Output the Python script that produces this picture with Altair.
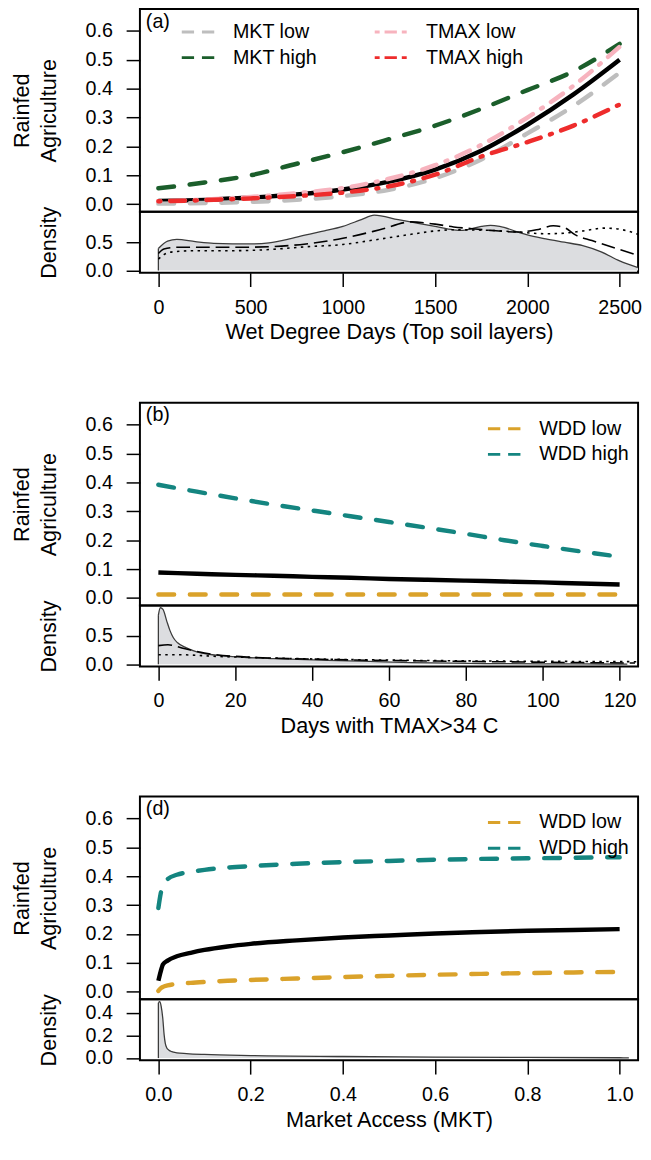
import altair as alt
import pandas as pd

FONT = "Liberation Sans"
W, H_MAIN, H_DENS, GAP = 506, 206, 62, 132

MAIN_Y_DOMAIN = [-0.026, 0.676]
MAIN_Y_TICKS = [0.0, 0.1, 0.2, 0.3, 0.4, 0.5, 0.6]

# ---------------- panel (a): Wet Degree Days ----------------
A_X_DOMAIN = [-100, 2600]
A_X_TICKS = [0, 500, 1000, 1500, 2000, 2500]
A_X = [0, 250, 500, 750, 1000, 1250, 1500, 1750, 2000, 2250, 2500]
A_MEAN = [0.011, 0.015, 0.023, 0.034, 0.051, 0.078, 0.12, 0.185, 0.275, 0.38, 0.50]
A_MKT_LOW = [0.002, 0.004, 0.008, 0.015, 0.028, 0.05, 0.09, 0.155, 0.245, 0.34, 0.455]
A_MKT_HIGH = [0.055, 0.075, 0.10, 0.14, 0.18, 0.225, 0.272, 0.33, 0.395, 0.46, 0.555]
A_TMAX_LOW = [0.01, 0.016, 0.025, 0.038, 0.056, 0.088, 0.135, 0.205, 0.30, 0.41, 0.545]
A_TMAX_HIGH = [0.01, 0.014, 0.02, 0.028, 0.04, 0.062, 0.102, 0.165, 0.215, 0.272, 0.345]

A_DENS_X = [0, 50, 100, 200, 300, 500, 600, 700, 800, 900, 1000, 1100, 1170, 1300, 1400,
            1500, 1600, 1650, 1750, 1800, 1850, 1950, 2000, 2100, 2200, 2300, 2400, 2500, 2600]
A_DENS_Y = [0.39, 0.52, 0.55, 0.51, 0.48, 0.47, 0.49, 0.55, 0.63, 0.70, 0.78, 0.90, 0.98, 0.90, 0.84,
            0.78, 0.72, 0.71, 0.78, 0.80, 0.78, 0.68, 0.63, 0.56, 0.50, 0.44, 0.33, 0.17, 0.05]
A_DASH_X = [0, 30, 100, 200, 400, 600, 800, 1000, 1200, 1370, 1500, 1600, 1700, 1800, 1950,
            2050, 2140, 2200, 2260, 2350, 2480, 2600]
A_DASH_Y = [0.30, 0.38, 0.41, 0.41, 0.41, 0.42, 0.47, 0.57, 0.72, 0.86, 0.82, 0.77, 0.74, 0.71, 0.68,
            0.72, 0.79, 0.76, 0.63, 0.53, 0.39, 0.27]
A_DOT_X = [0, 30, 80, 200, 400, 600, 800, 1000, 1150, 1370, 1500, 1600, 1800, 1950, 2100,
           2200, 2300, 2420, 2500, 2600]
A_DOT_Y = [0.20, 0.28, 0.33, 0.35, 0.35, 0.37, 0.42, 0.46, 0.53, 0.64, 0.70, 0.72, 0.71, 0.68, 0.65,
           0.66, 0.70, 0.75, 0.73, 0.64]

# ---------------- panel (b): Days with TMAX > 34 C ----------------
B_X_DOMAIN = [-4.8, 124.8]
B_X_TICKS = [0, 20, 40, 60, 80, 100, 120]
B_X = [0, 10, 20, 30, 40, 50, 60, 70, 80, 90, 100, 110, 120]
B_MEAN = [0.088, 0.084, 0.080, 0.077, 0.073, 0.070, 0.066, 0.063, 0.060, 0.057, 0.054, 0.050, 0.047]
B_WDD_LOW = [0.012, 0.012, 0.012, 0.012, 0.012, 0.012, 0.012, 0.012, 0.012, 0.012, 0.012, 0.012, 0.012]
B_WDD_HIGH = [0.392, 0.368, 0.345, 0.323, 0.303, 0.283, 0.263, 0.243, 0.222, 0.200, 0.180, 0.161, 0.143]

B_DENS_X = [0, 0.5, 1.2, 2.2, 3, 3.9, 5, 7.3, 10, 15, 23, 30, 44, 55, 66, 77, 87, 100, 110, 122]
B_DENS_Y = [0.87, 1.0, 0.97, 0.76, 0.6, 0.47, 0.38, 0.29, 0.22, 0.16, 0.12, 0.10, 0.07, 0.05, 0.03,
            0.02, 0.012, 0.008, 0.006, 0.004]
B_DASH_X = [0, 2.5, 6.7, 12, 23, 44, 66, 87, 110, 124]
B_DASH_Y = [0.33, 0.345, 0.28, 0.20, 0.13, 0.086, 0.062, 0.046, 0.03, 0.022]
B_DOT_X = [0, 5, 15, 30, 44, 66, 87, 110, 124.8]
B_DOT_Y = [0.17, 0.17, 0.14, 0.11, 0.09, 0.07, 0.057, 0.05, 0.046]

# ---------------- panel (d): Market Access ----------------
D_X_DOMAIN = [-0.04, 1.04]
D_X_TICKS = [0.0, 0.2, 0.4, 0.6, 0.8, 1.0]
D_X = [0, 0.005, 0.01, 0.02, 0.04, 0.07, 0.1, 0.15, 0.2, 0.3, 0.4, 0.5, 0.6, 0.7, 0.8, 0.9, 1.0]
D_MEAN = [0.038, 0.07, 0.095, 0.108, 0.123, 0.135, 0.145, 0.157, 0.166, 0.178, 0.188, 0.195,
          0.202, 0.207, 0.211, 0.214, 0.217]
D_WDD_HIGH = [0.29, 0.34, 0.37, 0.39, 0.405, 0.415, 0.422, 0.43, 0.435, 0.443, 0.449, 0.453,
              0.457, 0.46, 0.462, 0.464, 0.466]
D_WDD_LOW = [0.003, 0.012, 0.017, 0.022, 0.027, 0.031, 0.034, 0.038, 0.041, 0.046, 0.051, 0.055,
             0.059, 0.062, 0.065, 0.067, 0.069]
D_DENS_X = [0, 0.003, 0.006, 0.0096, 0.0124, 0.015, 0.018, 0.023, 0.029, 0.04, 0.061, 0.1, 0.2,
            0.4, 0.6, 0.8, 1.0, 1.02]
D_DENS_Y = [0.49, 0.5, 0.46, 0.35, 0.21, 0.13, 0.092, 0.07, 0.057, 0.047, 0.04, 0.032, 0.022,
            0.014, 0.009, 0.006, 0.003, 0.002]

DENS_Y_DOMAIN_1 = [-0.04, 1.04]
DENS_Y_TICKS_1 = [0.0, 0.5]
DENS_Y_DOMAIN_2 = [-0.02, 0.52]
DENS_Y_TICKS_2 = [0.0, 0.2, 0.4]

MKT_NAMES = ["MKT low", "MKT high"]
MKT_COLORS = ["#BEBEBE", "#1B5E2B"]
TMAX_NAMES = ["TMAX low", "TMAX high"]
TMAX_COLORS = ["#F7B3BE", "#EE2C2C"]
WDD_NAMES = ["WDD low", "WDD high"]
WDD_COLORS = ["#DAA22A", "#148580"]

DASHED = [16, 16]
DOTDASH = [2, 10, 15, 10]
LEG_DASHED = [12.5, 8]
LEG_DOTDASH = [5, 5, 12.5, 5]
LEG_SYMBOL = "M-1.5,0L1.5,0"


def xscale(dom):
    return alt.Scale(domain=dom, nice=False, zero=False)


def legend(x, y, dash):
    return alt.Legend(title=None, orient="none", legendX=x, legendY=y, direction="vertical",
                      symbolType=LEG_SYMBOL, symbolSize=484, symbolStrokeWidth=3,
                      symbolDash=dash, labelFont=FONT, labelFontSize=20, labelColor="black",
                      labelOffset=23, rowPadding=3, padding=0)


def main_panel(tag, x_dom, xvals, mean_vals, groups):
    xenc = alt.X("x:Q", scale=xscale(x_dom), axis=None)
    yenc = alt.Y("y:Q", scale=alt.Scale(domain=MAIN_Y_DOMAIN, nice=False, zero=False),
                 axis=alt.Axis(values=MAIN_Y_TICKS, format=".1f", title=["Rainfed", "Agriculture"],
                               titleX=-108, titleY=H_MAIN / 2, titleAngle=270, titleAlign="center",
                               titleBaseline="bottom", titleLineHeight=27, titleFontSize=22))
    layers = [alt.Chart(pd.DataFrame({"x": xvals, "y": mean_vals})).mark_line(
        color="black", strokeWidth=4.5, interpolate="monotone", clip=True).encode(x=xenc, y=yenc)]
    for names, series, colors, dash, lx, ly, ldash in groups:
        rows = []
        for name, vals in zip(names, series):
            for a, b in zip(xvals, vals):
                rows.append({"x": a, "y": b, "series": name})
        layers.append(alt.Chart(pd.DataFrame(rows)).mark_line(
            strokeWidth=4.5, strokeDash=dash, strokeCap="round", interpolate="monotone", clip=True
        ).encode(x=xenc, y=yenc,
                 color=alt.Color("series:N", scale=alt.Scale(domain=names, range=colors),
                                 legend=legend(lx, ly, ldash))))
    layers.append(alt.Chart(pd.DataFrame({"t": [tag]})).mark_text(
        align="left", baseline="top", font=FONT, fontSize=20, color="black"
    ).encode(text="t:N", x=alt.value(6), y=alt.value(3)))
    return alt.layer(*layers).resolve_scale(color="independent").properties(width=W, height=H_MAIN)


def dens_panel(x_dom, x_ticks, x_fmt, x_title, y_dom, y_ticks, dx, dy, extras):
    xenc = alt.X("x:Q", scale=xscale(x_dom),
                 axis=alt.Axis(values=x_ticks, format=x_fmt, title=x_title, labelFontSize=20,
                               labelPadding=11, titlePadding=5, titleFontSize=22, labelFlush=False))
    yenc = alt.Y("y:Q", scale=alt.Scale(domain=y_dom, nice=False, zero=False),
                 axis=alt.Axis(values=y_ticks, format=".1f", title="Density", titleX=-81,
                               titleY=H_DENS / 2, titleAngle=270, titleAlign="center",
                               titleBaseline="bottom", titleFontSize=22))
    df = pd.DataFrame({"x": dx, "y": dy})
    layers = [
        alt.Chart(df).mark_area(color="#DCDDE0", interpolate="monotone", clip=True).encode(
            x=xenc, y=yenc, y2=alt.datum(0)),
        alt.Chart(df).mark_line(color="#3C3C3C", strokeWidth=1.3, interpolate="monotone", clip=True).encode(
            x=xenc, y=yenc),
        alt.Chart(df.iloc[[0]]).mark_rule(color="#3C3C3C", strokeWidth=1.3).encode(
            x=xenc, y=yenc, y2=alt.datum(0)),
    ]
    for ex, ey, dash in extras:
        layers.append(alt.Chart(pd.DataFrame({"x": ex, "y": ey})).mark_line(
            color="black", strokeWidth=1.6, strokeDash=dash, interpolate="monotone", clip=True
        ).encode(x=xenc, y=yenc))
    return alt.layer(*layers).properties(width=W, height=H_DENS)


def spacer():
    return alt.Chart(pd.DataFrame({"v": [0]})).mark_point(opacity=0).encode(
        x=alt.X("v:Q", axis=None), y=alt.Y("v:Q", axis=None)
    ).properties(width=W, height=GAP, view=alt.ViewBackground(stroke="transparent"))


charts = [
    main_panel("(a)", A_X_DOMAIN, A_X, A_MEAN, [
        (MKT_NAMES, [A_MKT_LOW, A_MKT_HIGH], MKT_COLORS, DASHED, 46.5, 11, LEG_DASHED),
        (TMAX_NAMES, [A_TMAX_LOW, A_TMAX_HIGH], TMAX_COLORS, DOTDASH, 242.5, 11, LEG_DOTDASH),
    ]),
    dens_panel(A_X_DOMAIN, A_X_TICKS, "d", "Wet Degree Days (Top soil layers)",
               DENS_Y_DOMAIN_1, DENS_Y_TICKS_1, A_DENS_X, A_DENS_Y,
               [(A_DASH_X, A_DASH_Y, [14, 6]), (A_DOT_X, A_DOT_Y, [2.5, 4.5])]),
    spacer(),
    main_panel("(b)", B_X_DOMAIN, B_X, B_MEAN, [
        (WDD_NAMES, [B_WDD_LOW, B_WDD_HIGH], WDD_COLORS, DASHED, 357.5, 14, LEG_DASHED),
    ]),
    dens_panel(B_X_DOMAIN, B_X_TICKS, "d", "Days with TMAX>34 C",
               DENS_Y_DOMAIN_1, DENS_Y_TICKS_1, B_DENS_X, B_DENS_Y,
               [(B_DASH_X, B_DASH_Y, [14, 6]), (B_DOT_X, B_DOT_Y, [2.5, 4.5])]),
    spacer(),
    main_panel("(d)", D_X_DOMAIN, D_X, D_MEAN, [
        (WDD_NAMES, [D_WDD_LOW, D_WDD_HIGH], WDD_COLORS, DASHED, 357.5, 14, LEG_DASHED),
    ]),
    dens_panel(D_X_DOMAIN, D_X_TICKS, ".1f", "Market Access (MKT)",
               DENS_Y_DOMAIN_2, DENS_Y_TICKS_2, D_DENS_X, D_DENS_Y, []),
]

chart = alt.vconcat(*charts, spacing=0, bounds="flush").resolve_scale(
    x="independent", y="independent", color="independent"
).properties(
    padding={"left": 2, "top": -9, "right": 0, "bottom": 0}
).configure_view(
    stroke="black", strokeWidth=2
).configure_axis(
    labelFont=FONT, titleFont=FONT, labelColor="black", titleColor="black", tickColor="black",
    tickSize=14, tickWidth=1.5, domain=False, grid=False, titleFontWeight="normal",
    labelFontSize=20, labelPadding=14
)

chart.save("out.html", embed_options={"renderer": "svg", "actions": False})
